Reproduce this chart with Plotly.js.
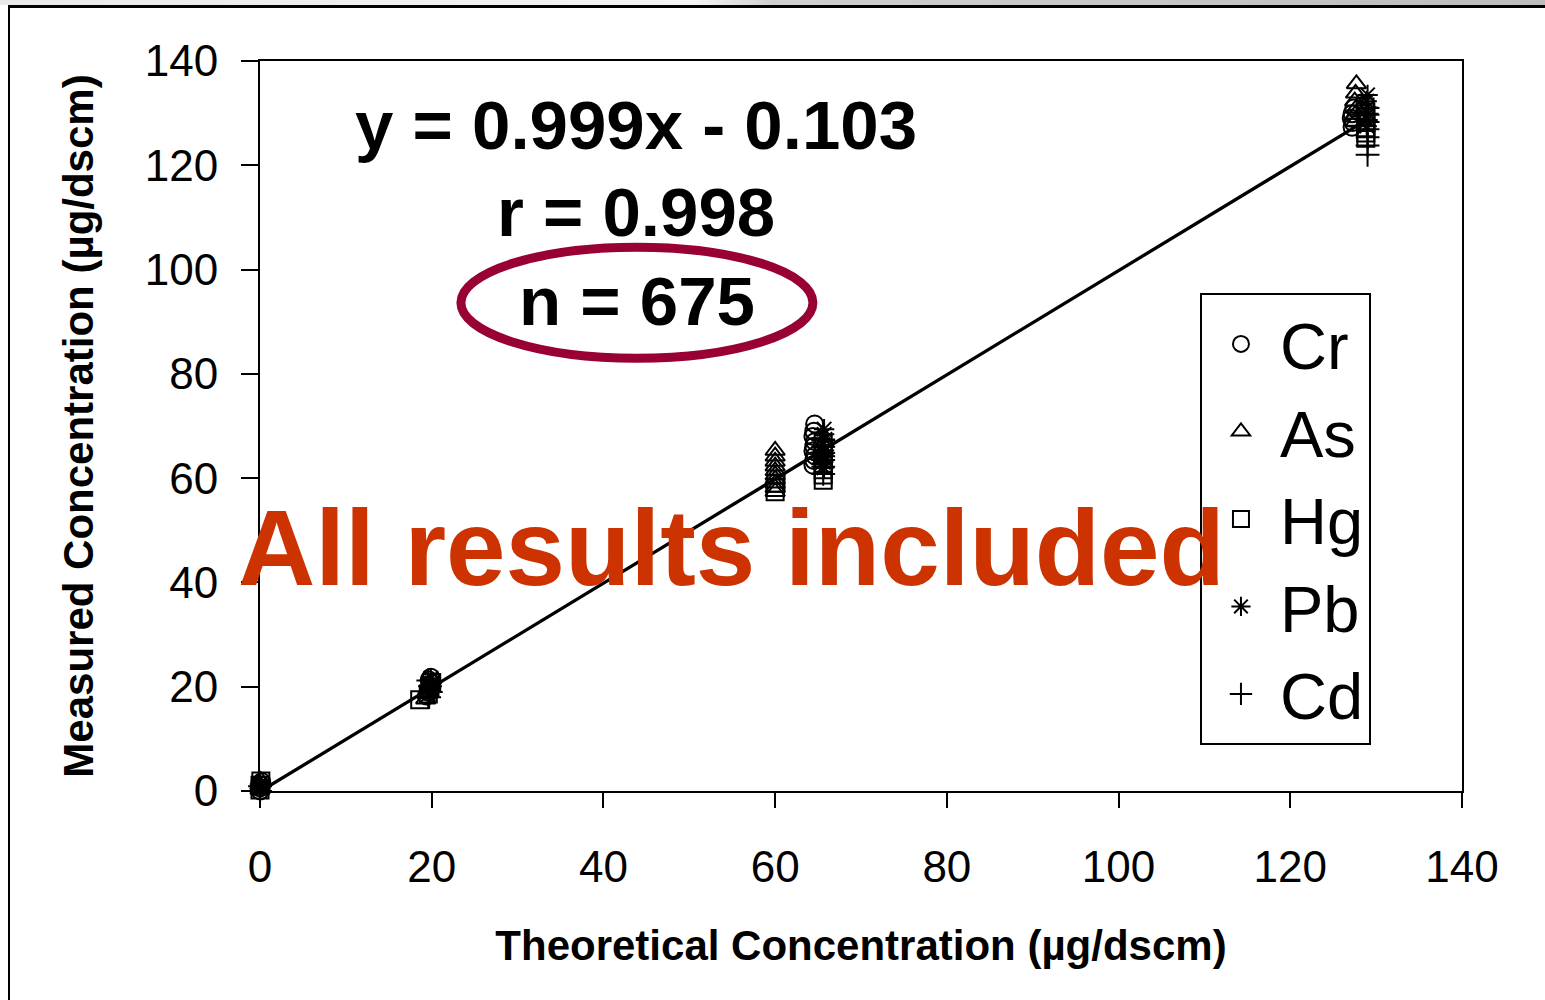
<!DOCTYPE html>
<html>
<head>
<meta charset="utf-8">
<script src="https://cdn.plot.ly/plotly-3.0.1.min.js"></script>
<style>
  html, body { margin: 0; padding: 0; width: 1545px; height: 1000px; overflow: hidden; background: #fff; }
  #strip { position: absolute; left: 0; top: 0; width: 1545px; height: 5px;
           background: linear-gradient(to right, #e8e8e8, #f4f4f4 45%, #cfcfcf 50%, #bdbdbd 100%); }
  #frame { position: absolute; left: 8px; top: 5px; width: 1545px; height: 1000px;
           border-left: 2px solid #000; border-top: 3px solid #000; box-sizing: border-box; }
  #chart { position: absolute; left: 0; top: 0; width: 1545px; height: 1000px; }
</style>
</head>
<body>
<div id="strip"></div>
<div id="frame"></div>
<div id="chart"></div>
<script>
// ---- data ----
const elements = ["Cr", "As", "Hg", "Pb", "Cd"];
const symbols  = ["circle-open", "triangle-up-open", "square-open", "asterisk-open", "cross-thin-open"];

const crX = [0, 0, 0, 0.2, 19.4, 19.6, 19.8, 20.0, 19.7, 19.9, 64.4, 64.5, 64.6, 64.4, 64.5, 64.6, 64.4, 64.5, 64.6, 127.2, 127.3, 127.1, 127.2, 127.4];
const crY = [0, 0.6, 1.2, 1.8, 18.2, 19.0, 19.8, 20.6, 21.3, 21.8, 62.5, 63.4, 64.3, 65.2, 66.1, 67.0, 68.0, 69.0, 70.4, 127.3, 128.2, 129.0, 129.9, 131.0];

const asX = [0, 0, 0.1, 19.3, 19.5, 19.6, 19.8, 60.0, 60.0, 60.0, 60.0, 60.0, 60.0, 60.0, 60.0, 60.0, 60.0, 65.5, 65.6, 65.7, 127.6, 127.6, 127.7, 127.5, 127.6, 127.7];
const asY = [0.3, 1.2, 2.0, 17.6, 18.6, 19.6, 20.6, 57.4, 58.2, 59.0, 59.8, 60.6, 61.4, 62.3, 63.2, 64.2, 65.3, 63.5, 65.2, 66.8, 128.4, 129.8, 131.0, 132.3, 133.8, 135.6];

const hgX = [0, 0, 0.1, 18.6, 19.6, 19.8, 20.0, 60.0, 60.0, 60.1, 65.6, 65.6, 65.6, 65.6, 65.6, 65.6, 65.6, 65.6, 128.8, 128.8, 128.8, 128.8, 128.8, 128.8, 128.7];
const hgY = [0.2, 1.1, 1.9, 17.5, 18.6, 19.7, 20.8, 57.4, 58.2, 59.0, 59.6, 60.6, 61.6, 62.6, 63.6, 64.6, 65.6, 66.6, 125.2, 126.2, 127.2, 128.2, 129.2, 130.2, 131.2];

const pbX = [0, 0, 0.1, 19.6, 19.8, 20.0, 19.9, 65.7, 65.6, 65.8, 65.7, 65.6, 65.8, 65.7, 65.7, 128.9, 129.0, 129.1, 129.0, 128.9, 129.0];
const pbY = [0.4, 1.3, 0.8, 18.5, 19.6, 20.7, 21.6, 62.0, 63.1, 64.2, 65.3, 66.4, 67.4, 68.4, 69.4, 127.5, 128.7, 129.9, 131.1, 132.3, 133.5];

const cdX = [0, 0, 19.7, 19.9, 19.8, 19.6, 65.6, 65.6, 65.6, 65.6, 65.6, 65.6, 129.0, 129.0, 129.0, 129.0, 129.0, 129.0, 129.0];
const cdY = [0.0, 0.9, 18.0, 19.0, 20.1, 21.2, 60.8, 62.2, 63.5, 64.8, 66.0, 67.2, 122.0, 123.8, 125.4, 126.9, 128.3, 129.7, 131.0];

const xsData = [crX, asX, hgX, pbX, cdX];
const ysData = [crY, asY, hgY, pbY, cdY];

// regression reported on the chart
const fitSlope = 0.999;
const fitIntercept = -0.103;
const fitRange = [0, 128.5];

const xTicks = [0, 20, 40, 60, 80, 100, 120, 140];
const yTicks = [0, 20, 40, 60, 80, 100, 120, 140];

const eqText = "y = 0.999x - 0.103";
const rText = "r = 0.998";
const nText = "n = 675";
const bannerText = "All results included";

// ---- figure ----
const FONT = "'Liberation Sans', Arial, Helvetica, sans-serif";
const traces = elements.map((name, i) => ({
  type: "scatter", mode: "markers", name: name,
  x: xsData[i], y: ysData[i],
  marker: { symbol: symbols[i], size: 17, color: "#000", line: { color: "#000", width: 2 } },
  cliponaxis: false
}));
traces.push({
  type: "scatter", mode: "lines", showlegend: false, hoverinfo: "skip",
  x: fitRange, y: fitRange.map(v => fitSlope * v + fitIntercept),
  line: { color: "#000", width: 3.3 }
});

const layout = {
  width: 1545, height: 1000,
  margin: { l: 260, r: 83, t: 61, b: 209, pad: 0 },
  paper_bgcolor: "rgba(0,0,0,0)", plot_bgcolor: "#fff",
  font: { family: FONT, color: "#000" },
  showlegend: true,
  legend: {
    x: 0.782, y: 0.682, xanchor: "left", yanchor: "top",
    bgcolor: "#fff", bordercolor: "#000", borderwidth: 2,
    font: { size: 65, family: FONT, color: "#000" },
    itemsizing: "trace", itemwidth: 68, tracegroupgap: 0
  },
  xaxis: {
    range: [0, 140], tickvals: xTicks, ticktext: xTicks.map(String),
    ticks: "outside", ticklen: 15, tickwidth: 2, tickcolor: "#000",
    ticklabelstandoff: 21,
    showline: true, linewidth: 2, linecolor: "#000", mirror: true,
    showgrid: false, zeroline: false,
    tickfont: { size: 44, family: FONT },
    title: { text: "Theoretical Concentration (µg/dscm)", font: { size: 42, family: FONT, weight: "bold" }, standoff: 41 }
  },
  yaxis: {
    range: [0, 140], tickvals: yTicks, ticktext: yTicks.map(String),
    ticks: "outside", ticklen: 17, tickwidth: 2, tickcolor: "#000",
    ticklabelstandoff: 14,
    showline: true, linewidth: 2, linecolor: "#000", mirror: true,
    showgrid: false, zeroline: false,
    tickfont: { size: 44, family: FONT },
    title: { text: "Measured Concentration (µg/dscm)", font: { size: 42, family: FONT, weight: "bold" }, standoff: 38 }
  },
  shapes: [{
    type: "circle", xref: "x", yref: "y",
    x0: 23.4, x1: 64.4, y0: 83.0, y1: 104.3,
    line: { color: "#990033", width: 9 }, fillcolor: "rgba(0,0,0,0)", layer: "above"
  }],
  annotations: [
    { text: "<b>" + eqText + "</b>", x: 43.8, y: 127.7, xref: "x", yref: "y", showarrow: false,
      font: { size: 69, family: FONT, color: "#000" } },
    { text: "<b>" + rText + "</b>", x: 43.8, y: 111, xref: "x", yref: "y", showarrow: false,
      font: { size: 69, family: FONT, color: "#000" } },
    { text: "<b>" + nText + "</b>", x: 43.9, y: 93.8, xref: "x", yref: "y", showarrow: false,
      font: { size: 69, family: FONT, color: "#000" } },
    { text: "<b>" + bannerText + "</b>", x: 54.9, y: 46.6, xref: "x", yref: "y", showarrow: false,
      font: { size: 107, family: FONT, color: "#CC3300" } }
  ]
};

Plotly.newPlot("chart", traces, layout, { displayModeBar: false, staticPlot: true });
</script>
</body>
</html>
